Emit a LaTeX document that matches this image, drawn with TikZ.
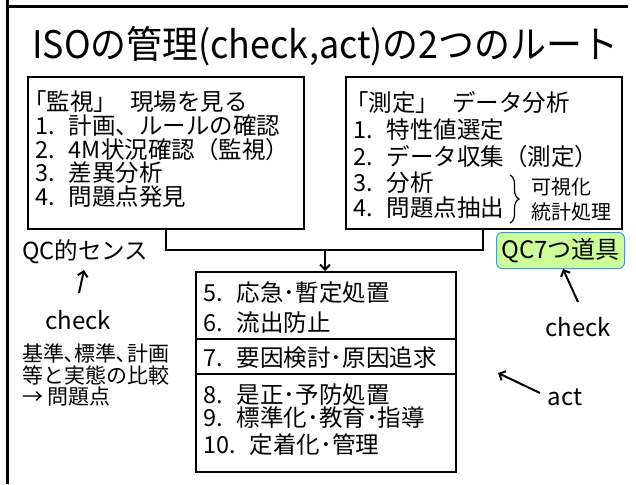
\documentclass[tikz,border=0pt]{standalone}
\usepackage{fontspec}
\usepackage{graphicx}
\setmainfont{Noto Sans CJK JP}
\usetikzlibrary{arrows.meta,decorations.pathreplacing}
\definecolor{qcfill}{RGB}{204,255,153}
\definecolor{qcdraw}{RGB}{51,153,255}
\newcommand\nsep{\hspace{0.6em}}
\newcommand\hsep{\hspace{0.55em}}
\begin{document}
\begin{tikzpicture}[x=1pt,y=-1pt,
  frameline/.style={line width=3pt},
  boxst/.style={draw, line width=2pt, inner sep=0pt, anchor=north west},
  lst/.style={anchor=west, inner sep=0pt, font=\fontsize{23.5}{25}\selectfont},
  sml/.style={anchor=west, inner sep=0pt, font=\fontsize{20}{22}\selectfont},
  note/.style={anchor=west, inner sep=0pt, font=\fontsize{21}{23}\selectfont},
  lbl/.style={inner sep=0pt, font=\fontsize{24}{26}\selectfont},
  conn/.style={line width=2pt},
  arr/.style={line width=2pt, -{Straight Barb[length=5pt,width=10pt]}},
  qcst/.style={draw=qcdraw, fill=qcfill, line width=1pt, rounded corners=6pt, inner sep=0pt, anchor=north west,
    minimum width=128pt, minimum height=36pt, font=\fontsize{24}{26}\selectfont}
]
\useasboundingbox (0,0) rectangle (636,484);
% frame
\draw[frameline] (7,0) -- (7,484);
\draw[frameline] (7,7) -- (628,7);
% title
\node[anchor=west, inner sep=0pt, font=\fontsize{38}{40}\selectfont] (title) at (32,46) {\resizebox{586pt}{\height}{ISOの管理(check,act)の2つのルート}};
% boxes
\node[boxst, minimum width=276pt, minimum height=152pt] (mon) at (27,76) {};
\node[boxst, minimum width=276pt, minimum height=152pt] (meas) at (345,76) {};
\node[boxst, minimum width=260pt, minimum height=67pt] (actA) at (195,271) {};
\node[boxst, minimum width=260pt, minimum height=35pt] (actB) at (195,338) {};
\node[boxst, minimum width=260pt, minimum height=98pt] (actC) at (195,373) {};
% left box text
\node[lst] (m0) at (23,102) {「監視」\hsep 現場を見る};
\node[lst] (m1) at (35,126) {1.\nsep 計画、ルールの確認};
\node[lst] (m2) at (35,150) {2.\nsep 4M状況確認（監視）};
\node[lst] (m3) at (35,173) {3.\nsep 差異分析};
\node[lst] (m4) at (35,197) {4.\nsep 問題点発見};
% right box text
\node[lst] (s0) at (345,102) {「測定」\hsep データ分析};
\node[lst] (s1) at (353,130) {1.\nsep 特性値選定};
\node[lst] (s2) at (353,157) {2.\nsep データ収集（測定）};
\node[lst] (s3) at (353,183) {3.\nsep 分析};
\node[lst] (s4) at (353,208) {4.\nsep 問題点抽出};
\draw[line width=1.2pt, decorate, decoration={brace, amplitude=9pt}] (510,175) -- (510,223);
\node[sml] (vis) at (531,187) {可視化};
\node[sml] (stat) at (531,212) {統計処理};
% bottom box text
\node[lst] (a5) at (203,293) {5.\nsep 応急･暫定処置};
\node[lst] (a6) at (203,323) {6.\nsep 流出防止};
\node[lst] (a7) at (203,358) {7.\nsep 要因検討･原因追求};
\node[lst] (a8) at (203,395) {8.\nsep 是正･予防処置};
\node[lst] (a9) at (203,418) {9.\nsep 標準化･教育･指導};
\node[lst] (a10) at (203,445) {10.\nsep 定着化･管理};
% connectors
\coordinate (jl) at (166,250);
\coordinate (jr) at (483,250);
\coordinate (ja) at (325,250);
\draw[conn] (mon.south -| jl) |- (jr) -- (meas.south -| jr);
\draw[arr] (ja) -- (ja |- actA.north);
% QC box
\node[qcst] (qc) at (496,232) {QC7つ道具};
% left column
\node[lst] (qcs) at (22,252) {QC的センス};
\node[lbl] (chk1) at (78,320) {check};
\coordinate (c1s) at (79,293);
\coordinate (c1e) at (84,270);
\draw[arr] (c1s) -- (c1e);
\node[note] (n1) at (22,353) {基準､標準､計画};
\node[note] (n2) at (22,375) {等と実態の比較};
\node[note] (n3) at (22,397) {→ 問題点};
% right labels
\node[lbl] (chk2) at (578,327) {check};
\coordinate (c2s) at (578,302);
\draw[arr] (c2s) -- (qc.south -| 563,0);
\node[lbl] (actl) at (565,397) {act};
\coordinate (c3s) at (540,393);
\coordinate (c3e) at (498,373);
\draw[arr] (c3s) -- (c3e);
\end{tikzpicture}
\end{document}
